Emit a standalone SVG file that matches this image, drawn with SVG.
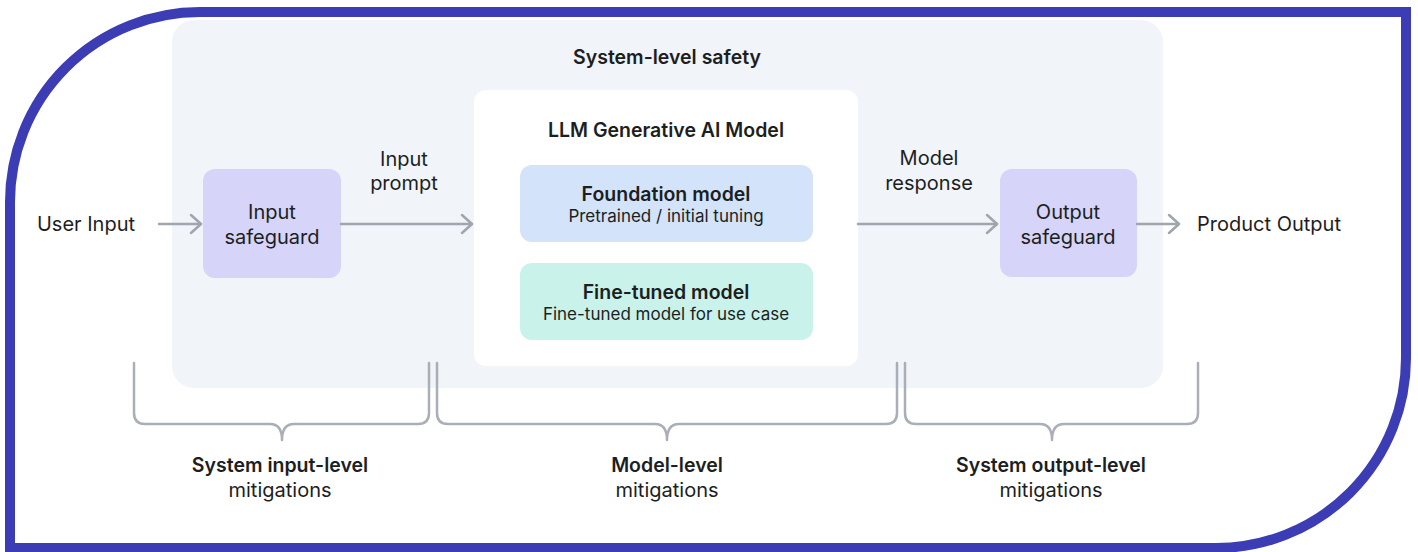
<svg xmlns="http://www.w3.org/2000/svg" width="1418" height="552" viewBox="0 0 1418 552">
<style>
text{font-family:Inter,"Noto Sans","Liberation Sans",sans-serif;fill:#1c1e21;text-anchor:middle}
.b{font-weight:600;font-size:19.5px}
.t18{font-size:20px}
.t16{font-size:17px}
.conn{fill:none;stroke:#a0a5ae;stroke-width:2.5;stroke-linecap:round;stroke-linejoin:round}
.brace{fill:none;stroke:#a9aeb7;stroke-width:2.5;stroke-linecap:round;stroke-linejoin:round}
.safe{fill:#d6d4f8}
</style>
<defs>
<marker id="arr" markerUnits="userSpaceOnUse" viewBox="0 0 14 24" refX="12" refY="12" markerWidth="14" markerHeight="24" orient="auto">
<path d="M2 3 L12 12 L2 21" fill="none" stroke="#a0a5ae" stroke-width="2.5" stroke-linecap="round" stroke-linejoin="round"/>
</marker>
</defs>
<rect width="1418" height="552" fill="#ffffff"/>
<path d="M10 552 L10 202 A190 190 0 0 1 200 12 L1406 12 L1406 358 A190 190 0 0 1 1216 548 L10 548" fill="none" stroke="#3c3cb4" stroke-width="10"/>
<g id="system-level-safety">
<rect x="172" y="20" width="991" height="368" rx="22" fill="#f1f4f8"/>
<text x="667" y="64" class="b">System-level safety</text>
</g>
<g id="llm-model">
<rect x="474" y="90" width="384" height="276" rx="12" fill="#ffffff"/>
<text x="666" y="137" class="b">LLM Generative AI Model</text>
</g>
<g id="foundation-model">
<rect x="520" y="165" width="293" height="77" rx="12" fill="#d3e3fa"/>
<text x="666" y="201" class="b">Foundation model</text>
<text x="666" y="222" class="t16">Pretrained / initial tuning</text>
</g>
<g id="fine-tuned-model">
<rect x="520" y="263" width="293" height="77" rx="12" fill="#c9f2eb"/>
<text x="666" y="299" class="b">Fine-tuned model</text>
<text x="666" y="320" class="t16">Fine-tuned model for use case</text>
</g>
<g id="input-safeguard">
<rect x="203" y="169" width="138" height="109" rx="12" class="safe"/>
<text x="272" y="219" class="t18">Input</text>
<text x="272" y="244" class="t18">safeguard</text>
</g>
<g id="output-safeguard">
<rect x="1000" y="169" width="137" height="108" rx="12" class="safe"/>
<text x="1068" y="219" class="t18">Output</text>
<text x="1068" y="244" class="t18">safeguard</text>
</g>
<g id="user-input"><text x="86" y="231" class="t18">User Input</text></g>
<g id="product-output"><text x="1269" y="231" class="t18">Product Output</text></g>
<g id="connectors">
<line x1="159" y1="224" x2="201" y2="224" class="conn" marker-end="url(#arr)"/>
<line x1="341" y1="224" x2="472" y2="224" class="conn" marker-end="url(#arr)"/>
<line x1="858" y1="224" x2="997" y2="224" class="conn" marker-end="url(#arr)"/>
<line x1="1137" y1="224" x2="1179" y2="224" class="conn" marker-end="url(#arr)"/>
<text x="404" y="166" class="t18">Input</text>
<text x="404" y="190" class="t18">prompt</text>
<text x="929" y="165" class="t18">Model</text>
<text x="929" y="190" class="t18">response</text>
</g>
<g id="input-mitigations">
<path class="brace" d="M134 363 V413 Q134 424 145 424 H270 Q282 424 282 440 Q282 424 294 424 H418 Q429 424 429 413 V363"/>
<text x="280" y="472" class="b">System input-level</text>
<text x="280" y="497" class="t18">mitigations</text>
</g>
<g id="model-mitigations">
<path class="brace" d="M437 363 V413 Q437 424 448 424 H655 Q667 424 667 440 Q667 424 679 424 H886 Q897 424 897 413 V363"/>
<text x="667" y="472" class="b">Model-level</text>
<text x="667" y="497" class="t18">mitigations</text>
</g>
<g id="output-mitigations">
<path class="brace" d="M905 363 V413 Q905 424 916 424 H1040 Q1052 424 1052 440 Q1052 424 1064 424 H1187 Q1198 424 1198 413 V363"/>
<text x="1051" y="472" class="b">System output-level</text>
<text x="1051" y="497" class="t18">mitigations</text>
</g>
</svg>
